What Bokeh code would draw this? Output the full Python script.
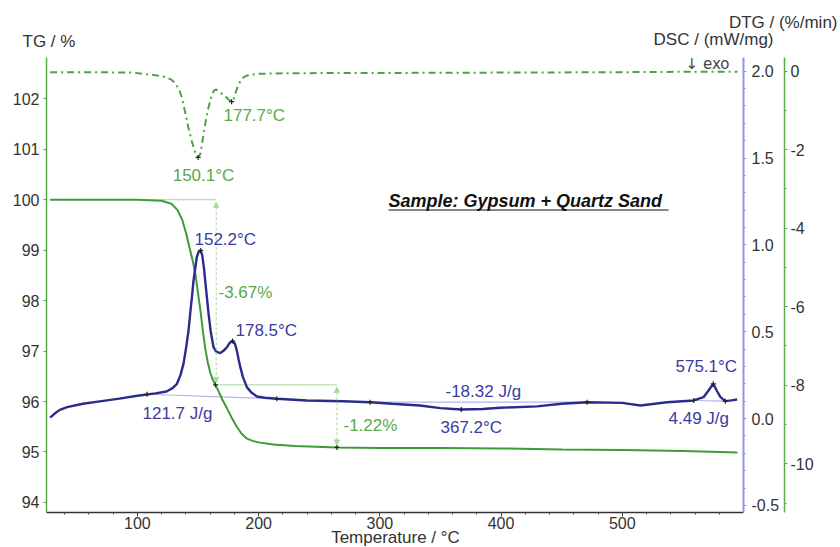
from bokeh.plotting import figure
from bokeh.models import (Range1d, LinearAxis, FixedTicker, PrintfTickFormatter,
                          Label, Arrow, NormalHead)
from bokeh.embed import file_html
from bokeh.resources import INLINE

# ---------------- data ----------------
tg_T = [28, 60, 100, 120, 128, 133, 137, 140, 143, 146, 148, 150, 152, 154, 156, 158,
        160, 162, 164.4, 167, 170, 174, 178, 182, 186, 190, 195, 200, 212, 230, 264.6,
        300, 350, 400, 450, 500, 550, 595]
tg_V = [100.0, 100.0, 100.0, 99.98, 99.92, 99.8, 99.6, 99.35, 99.05, 98.75, 98.5, 98.15,
        97.8, 97.4, 97.05, 96.78, 96.58, 96.44, 96.33, 96.2, 96.04, 95.86, 95.67, 95.5,
        95.36, 95.27, 95.22, 95.19, 95.15, 95.12, 95.09, 95.08, 95.08, 95.07, 95.05,
        95.04, 95.02, 94.99]

dtg_T = [28, 60, 96, 110, 118, 124, 128, 131, 134, 136.7, 139, 142, 145, 148, 150.1, 152,
         154.6, 156.5, 158.7, 161, 163, 165, 168, 172, 175, 177.7, 179.5, 181, 183, 185,
         188, 192, 200, 220, 260, 300, 400, 500, 550, 595]
dtg_V = [-0.03, -0.03, -0.04, -0.09, -0.12, -0.16, -0.22, -0.3, -0.45, -0.67, -1.0, -1.43,
         -1.8, -2.1, -2.2, -2.1, -1.6, -1.25, -0.92, -0.65, -0.5, -0.47, -0.54, -0.63,
         -0.72, -0.78, -0.7, -0.55, -0.38, -0.25, -0.15, -0.1, -0.07, -0.06, -0.05, -0.05,
         -0.04, -0.03, -0.02, -0.02]

dsc_T = [28, 32, 36, 42, 55, 69, 85, 100, 115, 124, 129, 132.6, 135.5, 138, 140, 142.2,
         143.5, 145, 146.3, 148, 149, 150.5, 152.2, 153.5, 155, 155.9, 157.3, 158.7, 160.5,
         162.8, 165, 168.3, 171, 173.9, 176, 178.5, 180.5, 182, 183.5, 184.9, 187, 190.3,
         194, 198.6, 205, 215, 240, 270, 292, 310, 333, 350, 367.2, 385, 399.4, 429.7, 450,
         471, 500, 515, 537, 559, 567, 571, 575.1, 578, 581, 585, 590, 594.7]
dsc_V = [0.005, 0.03, 0.05, 0.066, 0.085, 0.099, 0.115, 0.131, 0.145, 0.156, 0.175, 0.2,
         0.25, 0.315, 0.4, 0.507, 0.603, 0.7, 0.795, 0.88, 0.929, 0.96, 0.968, 0.94, 0.86,
         0.795, 0.7, 0.603, 0.5, 0.411, 0.385, 0.377, 0.39, 0.411, 0.435, 0.446, 0.43,
         0.392, 0.34, 0.296, 0.24, 0.181, 0.15, 0.127, 0.12, 0.114, 0.104, 0.1, 0.094,
         0.085, 0.075, 0.06, 0.052, 0.055, 0.062, 0.07, 0.085, 0.094, 0.09, 0.075, 0.094,
         0.104, 0.123, 0.16, 0.2, 0.16, 0.123, 0.1, 0.105, 0.11]

# analysis points
dtg_peak_T = [150.1, 177.7]
dtg_peak_V = [-2.2, -0.78]
dsc_mark_T = [152.2, 178.5, 367.2, 575.1, 108, 215, 292, 471, 559, 585]
dsc_mark_V = [0.968, 0.446, 0.052, 0.2, 0.14, 0.114, 0.094, 0.094, 0.104, 0.1]
tg_mark_T = [164.4, 264.6]
tg_mark_V = [96.33, 95.09]
tg_step_start = [100.0, 96.33]
tg_step_end = [96.33, 95.09]
tg_step_T = [165, 264.6]
dsc_base_T = [[108, 215], [292, 471], [559, 585]]
dsc_base_V = [[0.14, 0.114], [0.094, 0.094], [0.104, 0.1]]

x_ticks = [100, 200, 300, 400, 500]
x_minor = list(range(40, 600, 20))
tg_ticks = [94, 95, 96, 97, 98, 99, 100, 101, 102]
dsc_ticks = [-0.5, 0.0, 0.5, 1.0, 1.5, 2.0]
dsc_minor = [round(-0.5 + 0.1 * i, 2) for i in range(26)]
dtg_ticks = [0, -2, -4, -6, -8, -10]
dtg_minor = [-1, -3, -5, -7, -9, -11]

# axis extents (data) and pixel geometry of the axes
X_LO, X_HI = 25, 600
TG_LO, TG_HI = 93.80, 102.82
DSC_LO, DSC_HI = -0.541, 2.079
DTG_LO, DTG_HI = -11.24, 0.344
W, H = 840, 547
AX_L, AX_R, AX_T, AX_B = 46, 743, 57, 512
DTG_AX_PX = 784

GREEN = "#3f9a38"
GREEN_DTG = "#4da243"
GREEN_TXT = "#5aa84a"
GREEN_LIGHT = "#a9d69a"
AXIS_GREEN = "#5aab4a"
NAVY = "#2b2b8c"
BLUE_TXT = "#3b3ba0"
BLUE_LIGHT = "#b4b4ee"
AXIS_PURPLE = "#9494e2"
FONT = "Liberation Sans"


def xrange_full(lo, hi):
    s = (hi - lo) / (AX_R - AX_L)
    return lo - AX_L * s, hi + (W - AX_R) * s


def yrange_full(lo, hi):
    s = (hi - lo) / (AX_B - AX_T)
    return lo - (H - AX_B) * s, hi + AX_T * s


def px_x(px):
    return X_LO + (px - AX_L) * (X_HI - X_LO) / (AX_R - AX_L)


def px_y(py):
    return TG_HI - (py - AX_T) * (TG_HI - TG_LO) / (AX_B - AX_T)


p = figure(width=W, height=H, x_range=Range1d(*xrange_full(X_LO, X_HI)),
           y_range=Range1d(*yrange_full(TG_LO, TG_HI)),
           output_backend="svg", toolbar_location=None,
           min_border_left=0, min_border_right=0, min_border_top=0, min_border_bottom=0)
p.extra_y_ranges = {"dsc": Range1d(*yrange_full(DSC_LO, DSC_HI)),
                    "dtg": Range1d(*yrange_full(DTG_LO, DTG_HI))}
p.outline_line_color = None
p.xgrid.visible = False
p.ygrid.visible = False
p.background_fill_color = "white"
p.border_fill_color = "white"


def style_axis(ax, color, width, tick_out, standoff):
    ax.axis_line_color = color
    ax.axis_line_width = width
    ax.major_tick_line_color = color
    ax.minor_tick_line_color = color
    ax.major_tick_out = tick_out
    ax.major_tick_in = 0
    ax.minor_tick_out = 2
    ax.minor_tick_in = 0
    ax.major_label_standoff = standoff
    ax.major_label_text_font = FONT
    ax.major_label_text_font_size = "16px"
    ax.major_label_text_color = "#333333"


# bottom axis
xa = p.xaxis[0]
xa.ticker = FixedTicker(ticks=x_ticks, minor_ticks=x_minor)
xa.fixed_location = TG_LO
xa.bounds = (X_LO, X_HI)
style_axis(xa, "#333333", 1.5, 4, 0)
xa.major_tick_line_color = "#444444"
xa.minor_tick_line_color = "#444444"

# left axis (TG)
ya = p.yaxis[0]
ya.ticker = FixedTicker(ticks=tg_ticks, minor_ticks=[])
ya.formatter = PrintfTickFormatter(format="%d")
ya.fixed_location = X_LO
ya.bounds = (TG_LO, TG_HI)
style_axis(ya, AXIS_GREEN, 1.5, 3, 4)

# DSC axis
dsc_ax = LinearAxis(y_range_name="dsc", ticker=FixedTicker(ticks=dsc_ticks, minor_ticks=dsc_minor),
                    formatter=PrintfTickFormatter(format="%.1f"))
dsc_ax.fixed_location = X_HI
dsc_ax.bounds = (DSC_LO, DSC_HI)
style_axis(dsc_ax, AXIS_PURPLE, 2, 3, 5)
p.add_layout(dsc_ax, "right")

# DTG axis
dtg_ax = LinearAxis(y_range_name="dtg", ticker=FixedTicker(ticks=dtg_ticks, minor_ticks=dtg_minor),
                    formatter=PrintfTickFormatter(format="%d"))
dtg_ax.fixed_location = px_x(DTG_AX_PX)
dtg_ax.bounds = (DTG_LO, DTG_HI)
style_axis(dtg_ax, AXIS_GREEN, 1.5, 3, 3)
p.add_layout(dtg_ax, "right")

# analysis lines (thin)
p.line([110, tg_step_T[0]], [tg_step_start[0], tg_step_start[0]], line_color=GREEN_LIGHT, line_width=1)
p.line([tg_mark_T[0], tg_step_T[1]], [tg_step_start[1], tg_step_start[1]], line_color=GREEN_LIGHT, line_width=1)
for bt, bv in zip(dsc_base_T, dsc_base_V):
    p.line(bt, bv, line_color=BLUE_LIGHT, line_width=1.2, y_range_name="dsc")
for t, a, b in zip(tg_step_T, tg_step_start, tg_step_end):
    p.add_layout(Arrow(x_start=t, y_start=a - 0.05, x_end=t, y_end=b + 0.05,
                       line_color=GREEN_LIGHT, line_width=1, line_dash="3 2",
                       start=NormalHead(size=5, line_color=GREEN_LIGHT, fill_color=GREEN_LIGHT),
                       end=NormalHead(size=5, line_color=GREEN_LIGHT, fill_color=GREEN_LIGHT)))

# curves
p.line(dtg_T, dtg_V, line_color=GREEN_DTG, line_width=2, line_dash="7 4 2 4", y_range_name="dtg")
p.line(tg_T, tg_V, line_color=GREEN, line_width=2)
p.line(dsc_T, dsc_V, line_color=NAVY, line_width=2.4, y_range_name="dsc")

# markers
p.scatter(dtg_peak_T, dtg_peak_V, marker="cross", size=5, line_color="#222222", line_width=1.2, y_range_name="dtg")
p.scatter(dsc_mark_T, dsc_mark_V, marker="cross", size=5, line_color="#222222", line_width=1.2, y_range_name="dsc")
p.scatter(tg_mark_T, tg_mark_V, marker="cross", size=5, line_color="#222222", line_width=1.2)


def lab(px, py, text, color, size="17px", align="left", style="normal", font=FONT):
    p.add_layout(Label(x=px_x(px), y=px_y(py), text=text, text_color=color, text_font=font,
                       text_font_size=size, text_align=align, text_baseline="middle",
                       text_font_style=style))


lab(203, 175, "150.1°C", GREEN_TXT, align="center")
lab(223, 115, "177.7°C", GREEN_TXT)
lab(194, 239, "152.2°C", BLUE_TXT)
lab(218, 292, "-3.67%", GREEN_TXT)
lab(235, 330, "178.5°C", BLUE_TXT)
lab(142, 413, "121.7 J/g", BLUE_TXT)
lab(343, 425, "-1.22%", GREEN_TXT)
lab(445, 391, "-18.32 J/g", BLUE_TXT)
lab(440, 427, "367.2°C", BLUE_TXT)
lab(675, 366, "575.1°C", BLUE_TXT)
lab(668, 418, "4.49 J/g", BLUE_TXT)
lab(388, 200, "Sample: Gypsum + Quartz Sand", "#111111", size="18px", style="bold italic")
p.line([px_x(388), px_x(668)], [px_y(209.5), px_y(209.5)], line_color="#111111", line_width=1.2)
lab(729, 63, "↓ exo", "#444444", size="15px", align="right", font="DejaVu Sans")
lab(22, 41, "TG / %", "#333333")
lab(773, 39, "DSC / (mW/mg)", "#333333", align="right")
lab(837, 22, "DTG / (%/min)", "#333333", align="right")
lab(395, 537, "Temperature / °C", "#333333", align="center")

open("out.html", "w").write(file_html(p, INLINE))
